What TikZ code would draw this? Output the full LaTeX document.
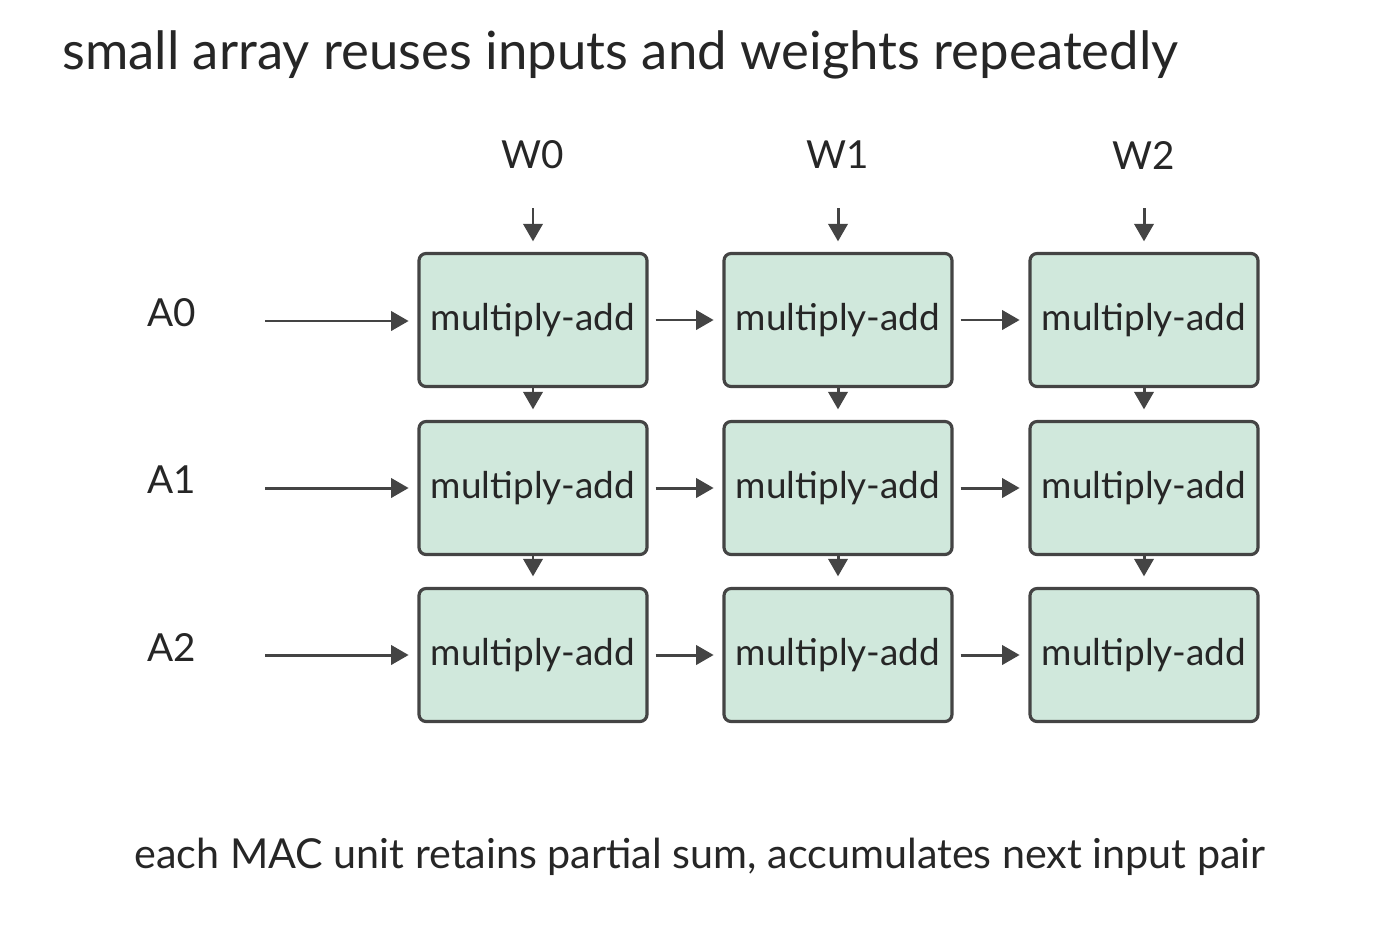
\documentclass[tikz,border=0pt]{standalone}
\usepackage{fontspec}
\setmainfont{Lato}
\usetikzlibrary{arrows.meta,positioning}
\definecolor{macfill}{HTML}{D0E8DC}
\definecolor{ink}{HTML}{444444}
\begin{document}
\begin{tikzpicture}[x=0.02cm,y=-0.02cm,
  mac/.style={draw=ink,line width=1.8pt,fill=macfill,rounded corners=4pt,minimum width=228*0.02cm,minimum height=133*0.02cm,font=\fontsize{21}{24}\selectfont,text=black!85},
  flow/.style={draw=ink,line width=1.7pt,-{Triangle[length=10pt,width=11pt]}},
  lbl/.style={font=\fontsize{22}{26}\selectfont,text=black!85}]
\useasboundingbox (0,0) rectangle (1400,940);
\node[anchor=west,font=\fontsize{30}{34}\selectfont,text=black!85](title)at(56,55){small array reuses inputs and weights repeatedly};
\foreach \c/\x in{0/533,1/838,2/1144}
{\node[lbl](W\c)at(\x,155){W\c};
\coordinate(wt\c)at(\x,208);
\foreach \r/\y in{0/320,1/488,2/655}
{\node[mac](m\r\c)at(\x,\y){multiply-add};}
\draw[flow,shorten >=6pt](wt\c)--(m0\c.north);}
\foreach \r/\y in{0/313,1/480,2/647}
{\node[lbl](A\r)at(172,\y){A\r};
\coordinate(as\r)at(265,\y+8);
\draw[flow,shorten >=5pt](as\r)--(as\r-|m\r0.west);}
\foreach \r in{0,1,2}
{\draw[flow,shorten <=4pt,shorten >=5pt](m\r0)--(m\r1);
\draw[flow,shorten <=4pt,shorten >=5pt](m\r1)--(m\r2);}
\foreach \c in{0,1,2}
{\draw[flow,shorten >=6pt](m0\c)--(m1\c);
\draw[flow,shorten >=6pt](m1\c)--(m2\c);}
\node[lbl,font=\fontsize{23.5}{27}\selectfont](note)at(700,857){each MAC unit retains partial sum, accumulates next input pair};
\end{tikzpicture}
\end{document}
